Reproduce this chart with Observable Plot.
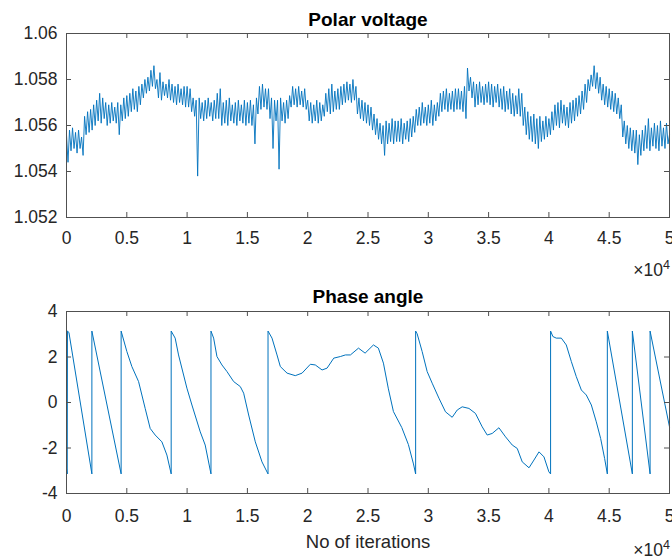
<!DOCTYPE html>
<html><head><meta charset="utf-8">
<script src="https://cdn.jsdelivr.net/npm/d3@7"></script>
<script src="https://cdn.jsdelivr.net/npm/@observablehq/plot@0.6"></script>
<style>
body{margin:0;background:#fff;}
#wrap{position:relative;width:672px;height:557px;overflow:hidden;font-family:"Liberation Sans",Arial,Helvetica,sans-serif;}
#wrap svg{position:absolute;left:0;}
</style></head><body><div id="wrap"></div>
<script>
// ---- data ----
const voltageStep = 125; // iterations between successive voltage samples
// noisy trace: upper swings at 0, 250, ..., 50000
const voltageHigh = [
1.0556,1.0558,1.0559,1.0557,1.0558,1.0555,1.0564,1.0566,1.0567,1.0569,
1.0571,1.0574,1.0572,1.0570,1.0569,1.0570,1.0568,1.0570,1.0569,1.0572,
1.0573,1.0574,1.0576,1.0575,1.0577,1.0578,1.0580,1.0581,1.0584,1.0586,
1.0580,1.0583,1.0579,1.0578,1.0580,1.0578,1.0577,1.0578,1.0576,1.0577,
1.0577,1.0576,1.0572,1.0571,1.0572,1.0570,1.0571,1.0572,1.0570,1.0571,
1.0574,1.0576,1.0570,1.0571,1.0572,1.0569,1.0570,1.0571,1.0569,1.0571,
1.0570,1.0571,1.0569,1.0572,1.0577,1.0578,1.0576,1.0576,1.0572,1.0571,
1.0571,1.0572,1.0570,1.0571,1.0573,1.0577,1.0576,1.0577,1.0575,1.0576,
1.0571,1.0570,1.0569,1.0571,1.0570,1.0569,1.0574,1.0576,1.0578,1.0575,
1.0576,1.0577,1.0578,1.0579,1.0578,1.0580,1.0577,1.0572,1.0571,1.0570,
1.0569,1.0568,1.0565,1.0563,1.0561,1.0560,1.0562,1.0561,1.0563,1.0562,
1.0562,1.0563,1.0561,1.0562,1.0563,1.0564,1.0567,1.0568,1.0570,1.0568,
1.0569,1.0571,1.0569,1.0570,1.0574,1.0575,1.0576,1.0574,1.0575,1.0576,
1.0576,1.0575,1.0577,1.0585,1.0581,1.0579,1.0578,1.0579,1.0577,1.0578,
1.0579,1.0578,1.0577,1.0578,1.0576,1.0577,1.0575,1.0576,1.0574,1.0573,
1.0576,1.0574,1.0568,1.0566,1.0564,1.0565,1.0563,1.0564,1.0562,1.0564,
1.0563,1.0566,1.0569,1.0570,1.0571,1.0569,1.0568,1.0570,1.0571,1.0572,
1.0573,1.0575,1.0578,1.0580,1.0582,1.0586,1.0583,1.0581,1.0578,1.0577,
1.0576,1.0575,1.0574,1.0572,1.0569,1.0562,1.0560,1.0559,1.0558,1.0558,
1.0556,1.0558,1.0560,1.0563,1.0559,1.0561,1.0560,1.0562,1.0559,1.0561,
1.0556
];
// lower swings at 125, 375, ..., 49875
const voltageLow = [
1.0544,1.0549,1.0550,1.0548,1.0550,1.0547,1.0556,1.0557,1.0558,1.0560,
1.0562,1.0561,1.0563,1.0560,1.0561,1.0562,1.0561,1.0556,1.0562,1.0563,
1.0564,1.0566,1.0567,1.0566,1.0569,1.0572,1.0574,1.0575,1.0577,1.0576,
1.0572,1.0571,1.0573,1.0572,1.0571,1.0570,1.0569,1.0570,1.0569,1.0568,
1.0568,1.0566,1.0564,1.0538,1.0563,1.0562,1.0563,1.0564,1.0562,1.0563,
1.0563,1.0560,1.0561,1.0560,1.0562,1.0561,1.0560,1.0562,1.0561,1.0560,
1.0561,1.0560,1.0552,1.0565,1.0567,1.0568,1.0567,1.0563,1.0550,1.0562,
1.0541,1.0562,1.0561,1.0563,1.0568,1.0569,1.0568,1.0569,1.0568,1.0567,
1.0562,1.0561,1.0562,1.0561,1.0562,1.0564,1.0566,1.0565,1.0566,1.0567,
1.0567,1.0569,1.0570,1.0571,1.0570,1.0571,1.0565,1.0563,1.0562,1.0561,
1.0560,1.0558,1.0556,1.0554,1.0552,1.0547,1.0552,1.0553,1.0552,1.0553,
1.0553,1.0552,1.0554,1.0553,1.0555,1.0557,1.0560,1.0560,1.0561,1.0560,
1.0561,1.0560,1.0562,1.0564,1.0566,1.0567,1.0566,1.0567,1.0566,1.0567,
1.0567,1.0566,1.0563,1.0575,1.0572,1.0568,1.0569,1.0570,1.0569,1.0570,
1.0569,1.0568,1.0570,1.0568,1.0567,1.0566,1.0567,1.0565,1.0564,1.0565,
1.0564,1.0560,1.0556,1.0554,1.0553,1.0552,1.0550,1.0553,1.0554,1.0555,
1.0556,1.0558,1.0560,1.0559,1.0561,1.0560,1.0559,1.0561,1.0562,1.0564,
1.0565,1.0567,1.0570,1.0575,1.0577,1.0576,1.0574,1.0571,1.0569,1.0568,
1.0567,1.0566,1.0565,1.0563,1.0555,1.0552,1.0550,1.0549,1.0548,1.0543,
1.0547,1.0549,1.0550,1.0549,1.0551,1.0550,1.0549,1.0551,1.0550,1.0552
];
const phaseIter = [
0,60,80,200,2105,2105,4530,4530,5005,5420,5976,6524,6939,7354,7910,8325,8680,
8680,9010,9290,9985,10400,11090,11500,11980,
11980,12200,12475,12890,13305,13860,14410,14690,15105,15655,16210,16710,
16710,17040,17455,17730,18290,18970,19530,20220,20630,21190,21605,22160,22710,23125,23540,24210,24760,25450,25860,26280,26690,27110,27800,28350,28770,28950,
28950,29075,29490,29905,30320,30880,31425,31980,32400,32810,33370,33910,34470,34885,35300,35855,36405,36960,37375,37790,38350,38760,39180,39590,40000,40140,
40140,40330,40610,41030,41440,41860,42270,42690,43100,43520,43930,44290,44620,44845,
44845,46920,46920,48390,48390,50000
];
const phaseAngle = [
-2.9,-3.14,3.14,3.08,-3.14,3.14,-3.14,3.14,2.24,1.58,0.92,-0.26,-1.14,-1.43,-1.73,-2.31,-3.14,
3.14,2.83,2.09,0.63,-0.11,-1.29,-1.87,-3.14,
3.14,2.83,2.02,1.65,1.36,0.92,0.70,0.41,-0.55,-1.73,-2.61,-3.14,
3.14,2.83,2.09,1.58,1.29,1.18,1.29,1.68,1.65,1.43,1.51,1.95,2.02,2.09,2.09,2.39,2.17,2.53,2.39,1.73,0.60,-0.40,-1.10,-1.85,-2.70,-3.14,
3.14,3.02,2.24,1.36,0.85,0.19,-0.41,-0.65,-0.33,-0.19,-0.26,-0.48,-1.07,-1.43,-1.36,-1.11,-1.51,-1.87,-2.02,-2.61,-2.87,-2.53,-2.17,-2.39,-3.05,-3.14,
3.14,2.90,2.83,2.83,2.53,1.80,1.14,0.55,0.33,-0.11,-0.85,-1.58,-2.46,-3.14,
3.14,-3.14,3.14,-3.14,3.14,-1.07
];
const xTicks = [0,5000,10000,15000,20000,25000,30000,35000,40000,45000,50000];
const xTickLabels = ["0","0.5","1","1.5","2","2.5","3","3.5","4","4.5","5"];
const vTicks = [1.052,1.054,1.056,1.058,1.06];
const vTickLabels = ["1.052","1.054","1.056","1.058","1.06"];
const pTicks = [-4,-2,0,2,4];
const pTickLabels = ["-4","-2","0","2","4"];
const titles = ["Polar voltage","Phase angle"];
const xLabel = "No of iterations";
const exponentBase = "\u00d710";
const exponent = "4";

// ---- drawing ----
const FONT = '"Liberation Sans",Arial,Helvetica,sans-serif';
const LINE = "#0072BD", AX = "#505050", TXT = "#262626";
const wrap = document.getElementById("wrap");

function panel({rows, x, y, yDomain, yTicks, yLabels, top, height, mt, mb, xPad, sw}) {
  const W = 672, ml = 66, mr = 3;
  const innerW = W - ml - mr, innerH = height - mt - mb;
  const p = Plot.plot({
    width: W, height, marginLeft: ml, marginRight: mr, marginTop: mt, marginBottom: mb,
    style: {fontFamily: FONT, fontSize: "17.5px", color: TXT, background: "transparent", overflow: "visible"},
    x: {domain: [0, 50000], ticks: xTicks, tickFormat: d => xTickLabels[xTicks.indexOf(d)], tickSize: 0, tickPadding: xPad, label: null},
    y: {domain: yDomain, ticks: yTicks, tickFormat: d => yLabels[yTicks.indexOf(d)], tickSize: 0, tickPadding: 9, label: null},
    marks: [
      Plot.line(rows, {x, y, stroke: LINE, strokeWidth: sw}),
      Plot.frame({stroke: AX}),
      Plot.tickX(xTicks, {x: d => d, stroke: AX, insetTop: innerH - 5}),
      Plot.tickX(xTicks, {x: d => d, stroke: AX, insetBottom: innerH - 5}),
      Plot.tickY(yTicks, {y: d => d, stroke: AX, insetRight: innerW - 5}),
      Plot.tickY(yTicks, {y: d => d, stroke: AX, insetLeft: innerW - 5})
    ]
  });
  p.style.top = top + "px";
  wrap.appendChild(p);
}

// interleave the upper and lower swings into one trace
const vRows = [];
voltageHigh.forEach((v, i) => {
  vRows.push({iter: 2 * i * voltageStep, v});
  if (i < voltageLow.length) vRows.push({iter: (2 * i + 1) * voltageStep, v: voltageLow[i]});
});
const pRows = phaseIter.map((it, i) => ({iter: it, a: phaseAngle[i]}));

panel({rows: vRows, x: "iter", y: "v", yDomain: [1.052, 1.06], yTicks: vTicks, yLabels: vTickLabels, top: 0, height: 280, mt: 33, mb: 63, xPad: 14, sw: 0.9});
panel({rows: pRows, x: "iter", y: "a", yDomain: [-4, 4], yTicks: pTicks, yLabels: pTickLabels, top: 280, height: 277, mt: 31, mb: 64, xPad: 16, sw: 1});

// annotation layer: titles, x label, exponent
const ann = d3.create("svg").attr("width", 672).attr("height", 557)
  .style("top", "0px").style("font-family", FONT).style("pointer-events", "none");
ann.append("text").attr("x", 368).attr("y", 26).attr("text-anchor", "middle")
  .attr("font-weight", "bold").attr("font-size", 19).attr("fill", "#000").text(titles[0]);
ann.append("text").attr("x", 368).attr("y", 303).attr("text-anchor", "middle")
  .attr("font-weight", "bold").attr("font-size", 19).attr("fill", "#000").text(titles[1]);
ann.append("text").attr("x", 368).attr("y", 548).attr("text-anchor", "middle")
  .attr("font-size", 18.5).attr("fill", TXT).text(xLabel);
for (const by of [276, 556]) {
  const t = ann.append("text").attr("x", 670).attr("y", by).attr("text-anchor", "end")
    .attr("font-size", 17.5).attr("fill", TXT);
  t.append("tspan").text(exponentBase);
  t.append("tspan").attr("font-size", 12.5).attr("dy", -7).text(exponent);
}
wrap.appendChild(ann.node());
</script></body></html>
